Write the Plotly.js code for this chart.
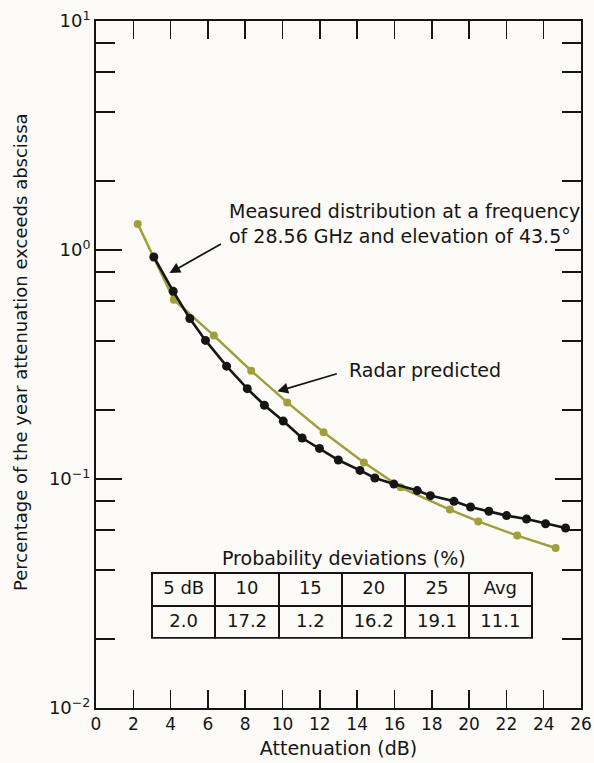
<!DOCTYPE html>
<html>
<head>
<meta charset="utf-8">
<script src="https://cdn.plot.ly/plotly-3.0.1.min.js"></script>
<style>
html,body{margin:0;padding:0;background:#fcfbf7;}
#chart{width:594px;height:763px;}
</style>
</head>
<body>
<div id="chart"></div>
<script>
// Measured distribution (black)
const measuredX = [3.1, 4.14, 5.03, 5.87, 7.0, 8.11, 9.03, 10.04, 11.05, 11.98, 12.99, 14.15, 14.95, 15.97, 17.22, 17.93, 19.19, 20.08, 21.06, 22.01, 23.08, 24.1, 25.17];
const measuredY = [0.932, 0.66, 0.502, 0.403, 0.311, 0.248, 0.21, 0.179, 0.151, 0.136, 0.121, 0.109, 0.101, 0.095, 0.089, 0.0846, 0.0799, 0.0755, 0.0723, 0.0692, 0.0669, 0.0638, 0.0611];
// Radar predicted (olive)
const radarX = [2.24, 4.17, 6.32, 8.32, 10.25, 12.2, 14.36, 16.33, 18.97, 20.49, 22.58, 24.64];
const radarY = [1.30, 0.607, 0.423, 0.297, 0.216, 0.160, 0.118, 0.092, 0.0735, 0.0653, 0.0566, 0.050];
// Table
const tableHeader = ['5\u00a0dB', '10', '15', '20', '25', 'Avg'];
const tableValues = ['2.0', '17.2', '1.2', '16.2', '19.1', '11.1'];
// Axis ticks
const yMajorVals = [0.01, 0.1, 1, 10];
const yMajorText = ['10<sup>−2</sup>', '10<sup>−1</sup>', '10<sup>0</sup>', '10<sup>1</sup>'];
const yMinorVals = [0.02, 0.04, 0.06, 0.08, 0.2, 0.4, 0.6, 0.8, 2, 4, 6, 8];

const FONT = 'DejaVu Sans, sans-serif';
const BG = '#fcfbf7';
const OLIVE = '#a19f3c';
const INK = '#151515';

const traces = [
  {x: radarX, y: radarY, type: 'scatter', mode: 'lines+markers',
   line: {color: OLIVE, width: 2.5}, marker: {color: OLIVE, size: 8}, showlegend: false, hoverinfo: 'skip'},
  {x: measuredX, y: measuredY, type: 'scatter', mode: 'lines+markers',
   line: {color: INK, width: 2.6}, marker: {color: INK, size: 9}, showlegend: false, hoverinfo: 'skip'},
  {type: 'table',
   domain: {x: [0.1155, 0.901], y: [0.100, 0.197]},
   columnwidth: [1, 1, 1, 1, 1, 1],
   header: {values: tableHeader, height: 33, align: 'center',
            line: {color: INK, width: 2}, fill: {color: BG},
            font: {family: FONT, size: 18, color: INK}},
   cells: {values: tableValues.map(v => [v]), height: 32, align: 'center',
           line: {color: INK, width: 2}, fill: {color: BG},
           font: {family: FONT, size: 18, color: INK}}
  }
];

const layout = {
  width: 594, height: 763,
  margin: {l: 96, r: 13, t: 21, b: 55},
  paper_bgcolor: BG, plot_bgcolor: BG,
  font: {family: FONT, size: 18, color: INK},
  xaxis: {
    range: [0, 26], dtick: 2, tick0: 0,
    showline: true, linecolor: INK, linewidth: 2, mirror: 'ticks',
    ticks: 'inside', ticklen: 18, tickwidth: 1.5, tickcolor: INK,
    showgrid: false, zeroline: false,
    tickfont: {family: FONT, size: 17, color: INK},
    title: {text: 'Attenuation (dB)', font: {family: FONT, size: 19, color: INK}, standoff: 8}
  },
  yaxis: {
    type: 'log', range: [-2, 1],
    tickmode: 'array', tickvals: yMajorVals, ticktext: yMajorText,
    showline: true, linecolor: INK, linewidth: 2, mirror: 'ticks',
    ticks: 'inside', ticklen: 26, tickwidth: 1.5, tickcolor: INK,
    minor: {tickmode: 'array', tickvals: yMinorVals, ticks: 'inside', ticklen: 19, tickwidth: 1.5, tickcolor: INK, showgrid: false},
    showgrid: false, zeroline: false,
    tickfont: {family: FONT, size: 18, color: INK}
  },
  annotations: [
    {x: -0.157, y: 0.518, xref: 'paper', yref: 'paper', xanchor: 'center', yanchor: 'middle', textangle: -90,
     text: 'Percentage of the year attenuation exceeds abscissa', showarrow: false,
     font: {family: FONT, size: 18, color: INK}},
    {x: 7.0, y: Math.log10(1.308), xref: 'x', yref: 'y', xanchor: 'left', yanchor: 'middle', align: 'left',
     text: 'Measured distribution at a frequency<br>of 28.56 GHz and elevation of 43.5°', showarrow: false,
     font: {family: FONT, size: 19, color: INK}},
    {x: 3.94, y: Math.log10(0.793), xref: 'x', yref: 'y', ax: 53, ay: -30, text: '',
     showarrow: true, arrowhead: 2, arrowsize: 1.2, arrowwidth: 1.8, arrowcolor: INK},
    {x: 13.47, y: Math.log10(0.298), xref: 'x', yref: 'y', xanchor: 'left', yanchor: 'middle',
     text: 'Radar predicted', showarrow: false, font: {family: FONT, size: 19, color: INK}},
    {x: 9.72, y: Math.log10(0.2415), xref: 'x', yref: 'y', ax: 61, ay: -18, text: '',
     showarrow: true, arrowhead: 2, arrowsize: 1.2, arrowwidth: 1.8, arrowcolor: INK},
    {x: 13.32, y: Math.log10(0.0452), xref: 'x', yref: 'y', xanchor: 'center', yanchor: 'middle',
     text: 'Probability deviations (%)', showarrow: false, font: {family: FONT, size: 19, color: INK}}
  ]
};

Plotly.newPlot('chart', traces, layout, {staticPlot: true, displayModeBar: false});
</script>
</body>
</html>
